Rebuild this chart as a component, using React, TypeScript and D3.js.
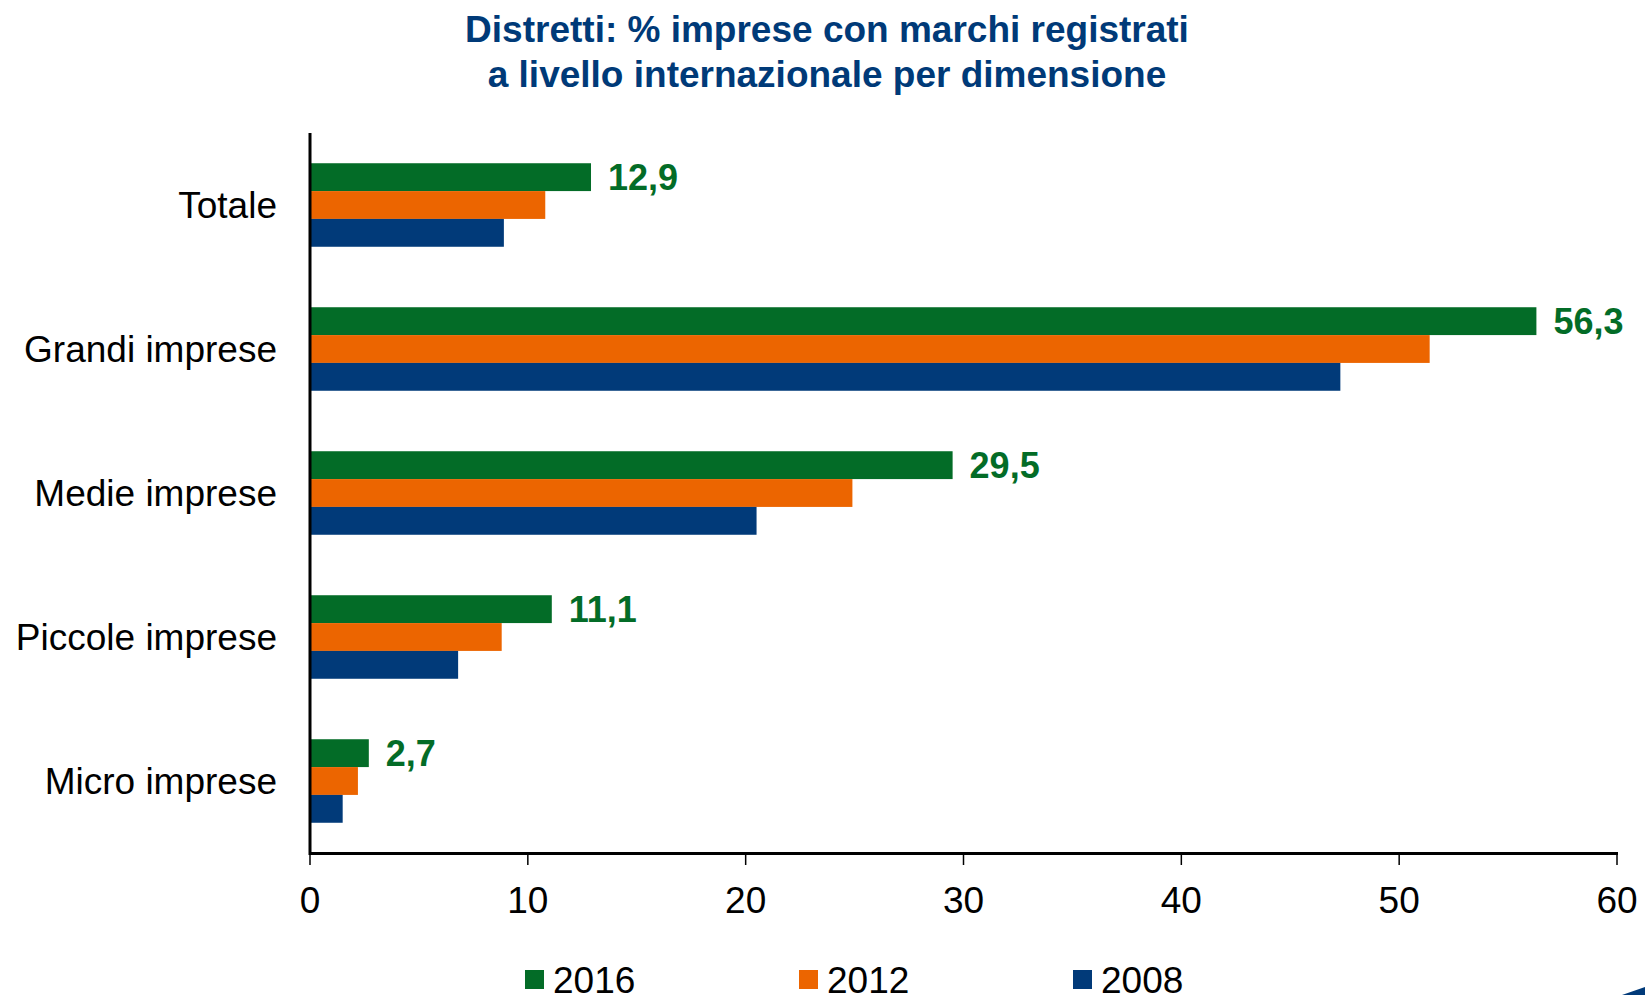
import React from 'react';
import * as d3 from 'd3';

const categories = ['Totale', 'Grandi imprese', 'Medie imprese', 'Piccole imprese', 'Micro imprese'];
const seriesNames = ['2016', '2012', '2008'];
const values2016 = [12.9, 56.3, 29.5, 11.1, 2.7];
const values2012 = [10.8, 51.4, 24.9, 8.8, 2.2];
const values2008 = [8.9, 47.3, 20.5, 6.8, 1.5];
const xTicks = [0, 10, 20, 30, 40, 50, 60];
const colors = ['#036c27', '#ec6500', '#013a79'];

const W = 1645;
const H = 995;
const FONT = '"Liberation Sans", Arial, Helvetica, sans-serif';

const App = () => {
  const series = [values2016, values2012, values2008];

  const x = d3.scaleLinear().domain([0, 60]).range([310, 1617]);
  const y = d3.scaleBand<string>()
    .domain(categories)
    .range([133, 853])
    .paddingInner(0.42)
    .paddingOuter(0.21);
  const ySub = d3.scaleBand<string>()
    .domain(seriesNames)
    .range([0, y.bandwidth()]);

  const fmt = (v: number) => d3.format('.1f')(v).replace('.', ',');

  return (
    <svg width={W} height={H} style={{ display: 'block', position: 'absolute', left: 0, top: 0 }} fontFamily={FONT}>
      <rect width={W} height={H} fill="#fff" />

      {/* title */}
      <text x={827} y={42} textAnchor="middle" fontSize={37} fontWeight="bold" fill="#003a78">
        Distretti: % imprese con marchi registrati
      </text>
      <text x={827} y={87} textAnchor="middle" fontSize={37} fontWeight="bold" fill="#003a78">
        a livello internazionale per dimensione
      </text>

      {/* bars */}
      {categories.map((c, i) => (
        <g key={c} transform={`translate(0,${y(c)})`}>
          {series.map((vals, s) => (
            <rect
              key={seriesNames[s]}
              x={x(0)}
              y={ySub(seriesNames[s])}
              width={x(vals[i]) - x(0)}
              height={ySub.bandwidth()}
              fill={colors[s]}
            />
          ))}
          <text
            x={x(values2016[i]) + 17}
            y={(ySub('2016') as number) + ySub.bandwidth() / 2}
            dy="0.36em"
            fontSize={36}
            fontWeight="bold"
            fill={colors[0]}
          >
            {fmt(values2016[i])}
          </text>
        </g>
      ))}

      {/* category labels */}
      {categories.map((c) => (
        <text
          key={c}
          x={277}
          y={(y(c) as number) + y.bandwidth() / 2}
          dy="0.36em"
          textAnchor="end"
          fontSize={37}
          fill="#000"
        >
          {c}
        </text>
      ))}

      {/* axes */}
      <line x1={x(0)} x2={x(0)} y1={133} y2={855} stroke="#000" strokeWidth={3} />
      <line x1={x(0) - 1} x2={x(60) + 1} y1={853.5} y2={853.5} stroke="#000" strokeWidth={3} />
      {xTicks.map((t) => (
        <g key={t}>
          <line x1={x(t)} x2={x(t)} y1={853} y2={865} stroke="#000" strokeWidth={1.5} />
          <text x={x(t)} y={913} textAnchor="middle" fontSize={37} fill="#000">
            {t}
          </text>
        </g>
      ))}

      {/* legend */}
      {seriesNames.map((n, s) => (
        <g key={n} transform={`translate(${525 + s * 274},0)`}>
          <rect x={0} y={970} width={19} height={19} fill={colors[s]} />
          <text x={28} y={993} fontSize={37} fill="#000">
            {n}
          </text>
        </g>
      ))}

      {/* corner logo fragment */}
      <path d="M1622,995 L1645,987 L1645,995 Z" fill="#013a79" />
    </svg>
  );
};

export default App;
